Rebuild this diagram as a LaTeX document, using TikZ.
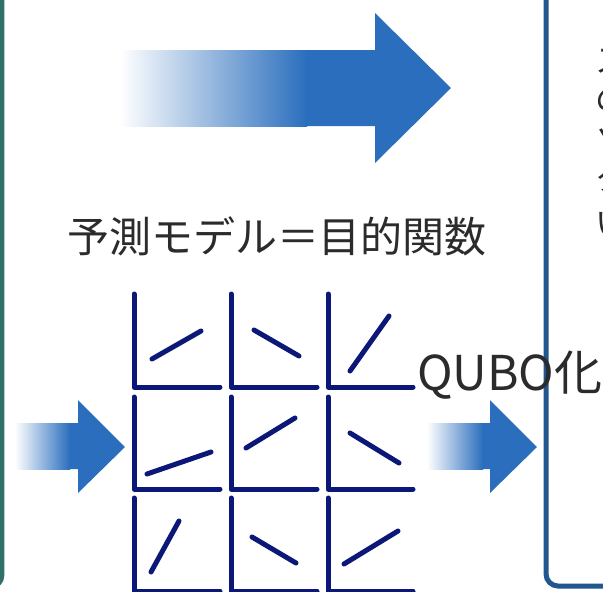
\documentclass[tikz,border=0pt]{standalone}
\usepackage{fontspec}
\newfontfamily\jp{Noto Sans CJK JP}
\definecolor{arrowblue}{HTML}{2A6EBD}
\definecolor{navy}{HTML}{0B1878}
\definecolor{tealline}{HTML}{2F7167}
\definecolor{boxblue}{HTML}{22568F}
\definecolor{txt}{HTML}{2B2B2B}
\begin{document}
\begin{tikzpicture}[x=1pt,y=-1pt,
  axis/.style={navy,line width=5pt,line cap=round,line join=round},
  slope/.style={navy,line width=5pt,line cap=round},
  lbl/.style={inner sep=0pt,text=txt,font=\jp}]
\useasboundingbox (0,0) rectangle (603,592);
\clip (0,0) rectangle (603,592);
\fill[white] (0,0) rectangle (603,592);
% side boxes
\draw[tealline,line width=4.5pt,rounded corners=10pt] (-100,-50) rectangle (2,586);
\draw[boxblue,line width=5pt,rounded corners=12pt] (546,-50) rectangle (700,586);
% right box texts (cut off)
\node[lbl,font=\jp\fontsize{33}{40}\selectfont,anchor=west] (r1) at (595,61) {ス};
\node[lbl,font=\jp\fontsize{33}{40}\selectfont,anchor=west] (r2) at (595,100) {の};
\node[lbl,font=\jp\fontsize{33}{40}\selectfont,anchor=west] (r3) at (595,141) {ソ};
\node[lbl,font=\jp\fontsize{33}{40}\selectfont,anchor=west] (r4) at (595,178) {タ};
\node[lbl,font=\jp\fontsize{33}{40}\selectfont,anchor=west] (r5) at (595,224) {い};
% top arrow
\shade[left color=white,right color=arrowblue] (120,50) rectangle (307,126);
\fill[arrowblue] (306.5,50) -- (375,50) -- (375,13) -- (451,88) -- (375,163) -- (375,126) -- (306.5,126) -- cycle;
% left arrow
\shade[left color=white,right color=arrowblue] (15,423) rectangle (70,469);
\fill[arrowblue] (69.5,423) -- (78,423) -- (78,400) -- (125,447) -- (78,493) -- (78,469) -- (69.5,469) -- cycle;
% right arrow
\shade[left color=white,right color=arrowblue] (427,423) rectangle (483,469);
\fill[arrowblue] (482.5,423) -- (490,423) -- (490,400) -- (537,447) -- (490,493) -- (490,469) -- (482.5,469) -- cycle;
% title
\node[lbl,font=\jp\fontsize{42}{48}\selectfont,anchor=base] (title) at (277,252) {予測モデル＝目的関数};
% grid of small plots
\foreach \x/\xr in {134/220,231/317,328/413}{
  \foreach \t/\b in {294/387,397/489,498/591}{
    \draw[axis] (\x,\t) -- (\x,\b) -- (\xr,\b);
  }
}
\draw[slope] (152,359) -- (201,331);
\draw[slope] (254,330) -- (299,356);
\draw[slope] (350,371) -- (389,316);
\draw[slope] (147,474) -- (211,452);
\draw[slope] (246,448) -- (295,418);
\draw[slope] (350,433) -- (399,463);
\draw[slope] (151,572) -- (179,521);
\draw[slope] (252,537) -- (296,563);
\draw[slope] (344,564) -- (398,531);
% QUBO label
\node[lbl,font=\jp\fontsize{48}{56}\selectfont,anchor=base west] (qubo) at (417,390) {QUBO化};
\end{tikzpicture}
\end{document}
